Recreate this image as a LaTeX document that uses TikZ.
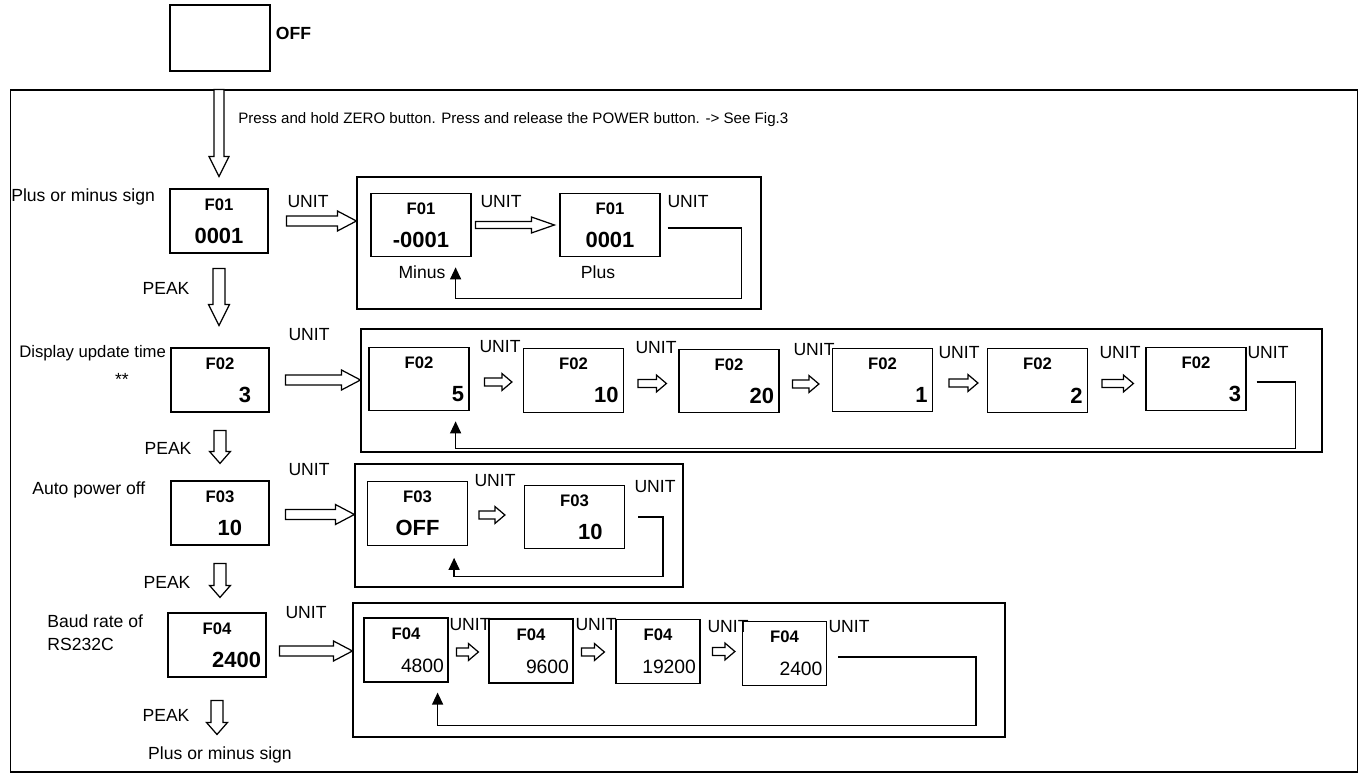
\documentclass[tikz,border=0pt]{standalone}
\usepackage{fontspec}
\setmainfont{Liberation Sans}
\usepackage{tikz}
\usetikzlibrary{arrows.meta,calc}

\newcommand{\Fl}{\fontsize{9.5}{11}\selectfont\bfseries}
\newcommand{\Vl}{\fontsize{12.5}{19}\selectfont\bfseries}
\newcommand{\Vr}{\fontsize{11}{19}\selectfont}

\tikzset{
  thinline/.style={line width=0.7pt},
  offbox/.style={draw, thinline, minimum width=2cm, minimum height=1.32cm},
  mainbox/.style={draw, thinline, inner sep=0pt, minimum width=1.96cm, minimum height=1.28cm, text width=1.76cm},
  dispbox/.style={draw, thinline, inner sep=0pt, minimum width=2cm, minimum height=1.27cm, text width=1.8cm},
  narrowbox/.style={draw, thinline, inner sep=0pt, minimum width=1.68cm, minimum height=1.28cm, text width=1.52cm},
  panel/.style={draw, thinline, inner sep=0pt},
  sidelab/.style={inner sep=0pt, font=\fontsize{10}{13}\selectfont},
  unitlab/.style={inner sep=0pt, font=\fontsize{10}{12}\selectfont},
  hollowR/.style n args={3}{to path={let \p1=(\tikztostart), \p2=(\tikztotarget) in
    ({\x1},{\y1+#1}) -- ({\x2-#3},{\y1+#1}) -- ({\x2-#3},{\y1+#2}) -- ({\x2},{\y1})
    -- ({\x2-#3},{\y1-#2}) -- ({\x2-#3},{\y1-#1}) -- ({\x1},{\y1-#1}) -- cycle}},
  hollowD/.style n args={3}{to path={let \p1=(\tikztostart), \p2=(\tikztotarget) in
    ({\x1-#1},{\y1}) -- ({\x1-#1},{\y2+#3}) -- ({\x1-#2},{\y2+#3}) -- ({\x1},{\y2})
    -- ({\x1+#2},{\y2+#3}) -- ({\x1+#1},{\y2+#3}) -- ({\x1+#1},{\y1}) -- cycle}},
  bigR/.style={thinline, fill=white, line join=miter, hollowR={1mm}{2mm}{3.8mm}},
  midR/.style={thinline, fill=white, line join=miter, hollowR={0.7mm}{1.6mm}{4.6mm}},
  smallR/.style={thinline, fill=white, line join=miter, hollowR={0.8mm}{1.7mm}{2mm}},
  bigD/.style={thinline, fill=white, line join=miter, hollowD={1mm}{2mm}{4mm}},
  peakD/.style={thinline, fill=white, line join=miter, hollowD={1.2mm}{2.1mm}{2.4mm}},
  loopback/.style={thinline, -{Triangle[length=2.4mm,width=2.2mm]}}
}

\begin{document}
\begin{tikzpicture}[x=0.02cm, y=-0.02cm]
  \useasboundingbox (0,0) rectangle (1363,776);

  % Power off display and outer frame
  \node[offbox] (off) at (220,38) {};
  \node[inner sep=0pt, anchor=west, font=\fontsize{10}{12}\selectfont\bfseries] (offlab) at ([xshift=1mm,yshift=1mm]off.east) {OFF};
  \node[panel, minimum width=26.96cm, minimum height=13.64cm] (outer) at (684,431) {};
  \node[inner sep=0pt, anchor=west, font=\fontsize{8.6}{10}\selectfont] (hint) at (238,120)
       {Press and hold ZERO button. Press and release the POWER button. -> See Fig.3};

  % Function displays, left column
  \node[mainbox] (f01) at (219,221) {{\centering\Fl F01\par}{\centering\Vl 0001\par}};
  \node[mainbox] (f02) at (220,380) {{\centering\Fl F02\par}{\raggedleft\Vl 3\hspace*{2.6mm}\par}};
  \node[mainbox] (f03) at (220,513) {{\centering\Fl F03\par}{\raggedleft\Vl 10\hspace*{4.4mm}\par}};
  \node[mainbox] (f04) at (217,645) {{\centering\Fl F04\par}{\raggedleft\Vl 2400\par}};

  \node[sidelab, anchor=west] (s1) at (11,197) {Plus or minus sign};
  \node[sidelab, anchor=west, font=\fontsize{9.5}{12}\selectfont] (s2) at (19,353) {Display update time};
  \node[sidelab] (stars) at (122,379) {**};
  \node[sidelab, anchor=west] (s3) at (32,490) {Auto power off};
  \node[sidelab, anchor=west, align=left] (s4) at (47,633) {Baud rate of\\RS232C};
  \node[sidelab] (endlab) at (220,755) {Plus or minus sign};

  \node[unitlab] (pk1) at (166,288) {PEAK};
  \node[unitlab] (pk2) at (168,448) {PEAK};
  \node[unitlab] (pk3) at (167,582) {PEAK};
  \node[unitlab] (pk4) at (166,715) {PEAK};

  % Setting panels
  \node[panel, minimum width=8.08cm, minimum height=2.64cm] (fr1) at (559,243) {};
  \node[panel, minimum width=19.22cm, minimum height=2.46cm] (fr2) at (841.5,390.5) {};
  \node[panel, minimum width=6.56cm, minimum height=2.46cm] (fr3) at (519,525.5) {};
  \node[panel, minimum width=13.04cm, minimum height=2.68cm] (fr4) at (679,670) {};

  % F01 choices
  \node[dispbox] (f01a) at (421,225) {{\centering\Fl F01\par}{\centering\Vl -0001\par}};
  \node[dispbox] (f01b) at (610,225) {{\centering\Fl F01\par}{\centering\Vl 0001\par}};
  \node[unitlab] (mi) at (422,272) {Minus};
  \node[unitlab] (pl) at (598,272) {Plus};

  % F02 choices
  \node[dispbox] (f02a) at (419,379) {{\centering\Fl F02\par}{\raggedleft\Vl 5\par}};
  \node[dispbox] (f02b) at (573.5,380.5) {{\centering\Fl F02\par}{\raggedleft\Vl 10\par}};
  \node[dispbox] (f02c) at (729,381) {{\centering\Fl F02\par}{\raggedleft\Vl 20\par}};
  \node[dispbox] (f02d) at (882.5,380) {{\centering\Fl F02\par}{\raggedleft\Vl 1\par}};
  \node[dispbox] (f02e) at (1037.5,380.5) {{\centering\Fl F02\par}{\raggedleft\Vl 2\par}};
  \node[dispbox] (f02f) at (1196,379) {{\centering\Fl F02\par}{\raggedleft\Vl 3\par}};

  % F03 choices
  \node[dispbox] (f03a) at (417.5,513.5) {{\centering\Fl F03\par}{\centering\Vl OFF\par}};
  \node[dispbox] (f03b) at (574.5,517) {{\centering\Fl F03\par}{\raggedleft\Vl 10\hspace*{3.4mm}\par}};

  % F04 choices
  \node[narrowbox] (f04a) at (406,650) {{\centering\Fl F04\par}{\raggedleft\Vr 4800\par}};
  \node[narrowbox] (f04b) at (531,651) {{\centering\Fl F04\par}{\raggedleft\Vr 9600\par}};
  \node[narrowbox] (f04c) at (658,651.5) {{\centering\Fl F04\par}{\raggedleft\Vr 19200\par}};
  \node[narrowbox] (f04d) at (784.5,653.5) {{\centering\Fl F04\par}{\raggedleft\Vr 2400\par}};

  % UNIT labels
  \node[unitlab] (un1) at (308,202) {UNIT};
  \node[unitlab] (un1a) at (501,202) {UNIT};
  \node[unitlab] (un1b) at (688,202) {UNIT};
  \node[unitlab] (un2) at (309,335) {UNIT};
  \node[unitlab] (un2a) at (500,347) {UNIT};
  \node[unitlab] (un2b) at (656,348) {UNIT};
  \node[unitlab] (un2c) at (814,350) {UNIT};
  \node[unitlab] (un2d) at (959,353) {UNIT};
  \node[unitlab] (un2e) at (1120,353) {UNIT};
  \node[unitlab] (un2f) at (1268,353) {UNIT};
  \node[unitlab] (un3) at (309,470) {UNIT};
  \node[unitlab] (un3a) at (495,481) {UNIT};
  \node[unitlab] (un3b) at (655,487) {UNIT};
  \node[unitlab] (un4) at (306,613) {UNIT};
  \node[unitlab] (un4a) at (470,625) {UNIT};
  \node[unitlab] (un4b) at (596,625) {UNIT};
  \node[unitlab] (un4c) at (728,627) {UNIT};
  \node[unitlab] (un4d) at (849,627) {UNIT};

  % PEAK steps down the left column
  \draw[bigD] (f01.north |- outer.north) to ([yshift=2.4mm]f01.north);
  \draw[thinline, fill=white, line join=miter, hollowD={1.2mm}{2.1mm}{4.2mm}] ([yshift=-3mm]f01.south) to ([yshift=4.4mm]f02.north);
  \draw[peakD] ([yshift=-3.6mm]f02.south) to ([yshift=3.4mm]f03.north);
  \draw[peakD] ([yshift=-3.6mm]f03.south) to ([yshift=3mm]f04.north);
  \draw[peakD] ([yshift=-4.6mm]f04.south) to ([yshift=2.4mm]endlab.north);

  % UNIT into the panels
  \draw[bigR] ([xshift=3.6mm]f01.east) to (fr1.west);
  \draw[bigR] ([xshift=3.2mm]f02.east) to (fr2.west);
  \draw[bigR] ([xshift=3.2mm,yshift=-0.3mm]f03.east) to (fr3.west);
  \draw[bigR] ([xshift=2.6mm,yshift=-1.2mm]f04.east) to (fr4.west);

  % UNIT steps inside the panels
  \draw[midR] ([xshift=0.8mm]f01a.east) to ([xshift=-1mm]f01b.west);
  \draw[smallR] ([xshift=3mm,yshift=-0.6mm]f02a.east) to ([xshift=-2.2mm]f02b.west);
  \draw[smallR] ([xshift=2.8mm,yshift=-0.6mm]f02b.east) to ([xshift=-2.4mm]f02c.west);
  \draw[smallR] ([xshift=2.6mm,yshift=-0.6mm]f02c.east) to ([xshift=-2.6mm]f02d.west);
  \draw[smallR] ([xshift=3.2mm,yshift=-0.6mm]f02d.east) to ([xshift=-1.8mm]f02e.west);
  \draw[smallR] ([xshift=2.8mm,yshift=-0.6mm]f02e.east) to ([xshift=-2.4mm]f02f.west);
  \draw[smallR] ([xshift=2.2mm,yshift=-0.3mm]f03a.east) to ([xshift=-3.8mm]f03b.west);
  \draw[smallR] ([xshift=1.6mm,yshift=-0.4mm]f04a.east) to ([xshift=-2mm]f04b.west);
  \draw[smallR] ([xshift=1.6mm,yshift=-0.2mm]f04b.east) to ([xshift=-2.2mm]f04c.west);
  \draw[smallR] ([xshift=2.4mm]f04c.east) to ([xshift=-1.4mm]f04d.west);

  % Back to the first choice
  \draw[loopback] ([xshift=1.4mm,yshift=-0.6mm]f01b.east) -- ++(14.8mm,0)
        |- ([xshift=-3.2mm,yshift=-8.2mm]f01a.south east) -- ([xshift=-3.2mm,yshift=-2mm]f01a.south east);
  \draw[loopback] ([xshift=2mm,yshift=-0.6mm]f02f.east) -- ++(7.8mm,0)
        |- ([xshift=-2.8mm,yshift=-7.4mm]f02a.south east) -- ([xshift=-2.8mm,yshift=-2mm]f02a.south east);
  \draw[loopback] ([xshift=2.6mm]f03b.east) -- ++(5mm,0)
        |- ([xshift=-2.8mm,yshift=-6.2mm]f03a.south east) -- ([xshift=-2.8mm,yshift=-2.4mm]f03a.south east);
  \draw[loopback] ([xshift=2.2mm,yshift=-0.7mm]f04d.east) -- ++(27.6mm,0)
        |- ([xshift=-2.2mm,yshift=-8.6mm]f04a.south east) -- ([xshift=-2.2mm,yshift=-2mm]f04a.south east);
\end{tikzpicture}
\end{document}
